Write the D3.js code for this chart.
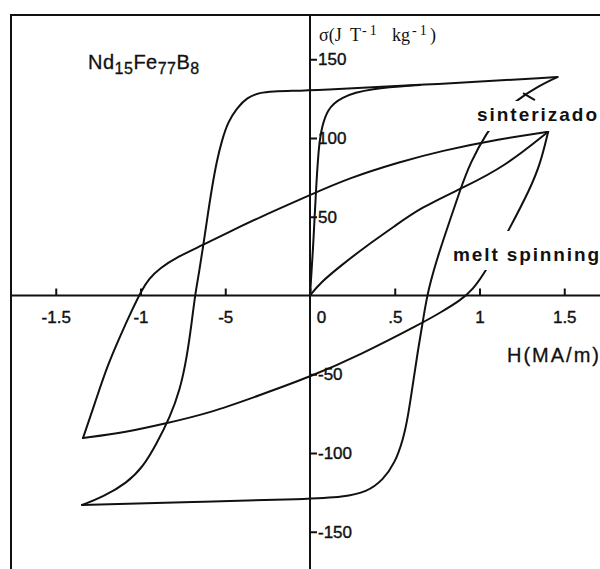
<!DOCTYPE html>
<html>
<head>
<meta charset="utf-8">
<script src="https://cdn.jsdelivr.net/npm/d3@7"></script>
<style>
  body { margin: 0; background: #fff; }
  svg { display: block; }
</style>
</head>
<body>
<svg id="chart" width="600" height="569"></svg>
<script>
// Axis ticks (H in MA/m, sigma in J T-1 kg-1)
const xTickValues = [-1.5, -1, -0.5, 0, 0.5, 1, 1.5];
const xTickLabels = ["-1.5", "-1", "-5", "0", ".5", "1", "1.5"];
const yTickValues = [150, 100, 50, -50, -100, -150];
const yTickLabels = ["150", "100", "50", "-50", "-100", "-150"];

// Sintered magnet: descending branch (from +saturation to -saturation)
const sintDown = [
  [1.46, 138.7], [0.77, 134.3], [0, 130.2], [-0.10, 130.0], [-0.22, 129.6], [-0.295, 128.9],
  [-0.372, 125.7], [-0.431, 119.0], [-0.484, 110.2], [-0.519, 98.7], [-0.549, 86.0],
  [-0.578, 68.9], [-0.608, 47.9], [-0.631, 30.8], [-0.655, 14.3], [-0.678, 0.3],
  [-0.696, -15.6], [-0.726, -39.0], [-0.767, -60.0], [-0.826, -77.1], [-0.903, -93.7],
  [-0.985, -108.9], [-1.080, -119.0], [-1.221, -127.9], [-1.345, -133.0]
];
// Sintered magnet: ascending branch
const sintUp = [
  [-1.345, -133.0], [-0.7, -131.2], [0, -129.2], [0.195, -127.9], [0.336, -124.8], [0.431, -117.1],
  [0.501, -106.3], [0.549, -91.7], [0.578, -77.1], [0.608, -55.6], [0.637, -34.6],
  [0.667, -15.6], [0.696, 3.5], [0.760, 27], [0.826, 47.9], [0.886, 67], [0.944, 84.1],
  [1.044, 103.8], [1.13, 115.5], [1.221, 124.1], [1.34, 132.5], [1.46, 138.7]
];
// Sintered magnet: initial magnetization curve
const sintVirgin = [
  [0, 0], [0.018, 28.9], [0.035, 67], [0.053, 96.8], [0.071, 107], [0.100, 117.8],
  [0.177, 126], [0.354, 131.4], [0.649, 133.7]
];
// Melt-spun ribbon: descending branch
const meltDown = [
  [1.405, 104], [1.121, 99.4], [0.767, 91.7], [0.531, 84.8], [0.230, 74.6],
  [0, 63.8], [-0.295, 49.8], [-0.490, 39.7], [-0.631, 32.1], [-0.785, 24.4],
  [-0.885, 17.4], [-0.950, 10.7], [-0.995, 3.0], [-1.050, -9.2], [-1.121, -26.0],
  [-1.198, -45.4], [-1.257, -64.4], [-1.339, -90.5]
];
// Melt-spun ribbon: ascending branch
const meltUp = [
  [-1.339, -90.5], [-1.080, -86.7], [-0.867, -81.6], [-0.590, -74.6], [-0.295, -63.2],
  [0, -51.7], [0.295, -37.8], [0.661, -17.5], [0.767, -11.0], [0.885, -3.3], [0.960, 3.5],
  [1.042, 16.2], [1.180, 42.9], [1.30, 68], [1.36, 84], [1.405, 104]
];
// Melt-spun ribbon: initial magnetization curve
const meltVirgin = [
  [0, 0], [0.06, 8.0], [0.177, 18.5], [0.324, 30.8], [0.501, 44.1],
  [0.649, 55.6], [0.914, 69], [1.150, 82], [1.405, 104]
];
// Short pointer stroke next to the "sinterizado" label
const sintPointer = [[1.257, 128.5], [1.327, 124.1]];

const svg = d3.select("#chart");
const W = 600, H = 569;
const FRAME_L = 11, FRAME_T = 15;

svg.append("rect").attr("width", W).attr("height", H).attr("fill", "#fff");

const x = d3.scaleLinear().domain([-1.5, 1.5]).range([55.75, 564.25]);
const y = d3.scaleLinear().domain([-150, 150]).range([531.75, 59.25]);

const ink = "#111";

// Frame (top and left edges)
svg.append("path")
  .attr("d", `M${W},${FRAME_T}H${FRAME_L}V${H}`)
  .attr("fill", "none").attr("stroke", ink).attr("stroke-width", 2);

// Axis lines through the origin
svg.append("line")
  .attr("x1", FRAME_L).attr("x2", W).attr("y1", y(0)).attr("y2", y(0))
  .attr("stroke", ink).attr("stroke-width", 2);
svg.append("line")
  .attr("x1", x(0)).attr("x2", x(0)).attr("y1", FRAME_T).attr("y2", H)
  .attr("stroke", ink).attr("stroke-width", 2);

const tickFont = "'Liberation Sans', Arial, sans-serif";

// H axis: ticks pointing up, labels below
const xAxis = d3.axisBottom(x)
  .tickValues(xTickValues)
  .tickFormat((d, i) => xTickLabels[i])
  .tickSizeInner(-7).tickSizeOuter(0).tickPadding(15);
const gx = svg.append("g").attr("transform", `translate(0,${y(0)})`).call(xAxis);
gx.select(".domain").remove();
gx.selectAll(".tick line").attr("stroke", ink).attr("stroke-width", 2);
gx.selectAll(".tick text")
  .attr("fill", ink).attr("stroke", ink).attr("stroke-width", 0.4)
  .style("font-family", tickFont).style("font-size", "17px")
  .attr("dx", d => d === 0 ? 11 : 0);

// Sigma axis: ticks pointing right, labels to the right
const yAxis = d3.axisRight(y)
  .tickValues(yTickValues)
  .tickFormat((d, i) => yTickLabels[i])
  .tickSizeInner(7).tickSizeOuter(0).tickPadding(1);
const gy = svg.append("g").attr("transform", `translate(${x(0)},0)`).call(yAxis);
gy.select(".domain").remove();
gy.selectAll(".tick line").attr("stroke", ink).attr("stroke-width", 2);
gy.selectAll(".tick text")
  .attr("fill", ink).attr("stroke", ink).attr("stroke-width", 0.4)
  .style("font-family", tickFont).style("font-size", "17px");

// Loop branches
const line = d3.line()
  .x(d => x(d[0])).y(d => y(d[1]))
  .curve(d3.curveBasis);

const branches = [sintDown, sintUp, sintVirgin, meltDown, meltUp, meltVirgin];
svg.append("g").selectAll("path").data(branches).join("path")
  .attr("d", line)
  .attr("fill", "none").attr("stroke", ink).attr("stroke-width", 2)
  .attr("stroke-linejoin", "round").attr("stroke-linecap", "round");

svg.append("path")
  .attr("d", d3.line().x(d => x(d[0])).y(d => y(d[1]))(sintPointer))
  .attr("fill", "none").attr("stroke", ink).attr("stroke-width", 2);

// Curve labels sit on white patches that interrupt the lines beneath
svg.append("rect").attr("x", 470).attr("y", 101).attr("width", 130).attr("height", 30).attr("fill", "#fff");
svg.append("rect").attr("x", 450).attr("y", 231).attr("width", 150).attr("height", 39).attr("fill", "#fff");

svg.append("text")
  .attr("x", 477).attr("y", 121)
  .attr("textLength", 120).attr("lengthAdjust", "spacing")
  .style("font-family", tickFont).style("font-weight", "bold").style("font-size", "19px")
  .attr("fill", ink).text("sinterizado");

svg.append("text")
  .attr("x", 453).attr("y", 261)
  .attr("textLength", 146).attr("lengthAdjust", "spacing")
  .style("font-family", tickFont).style("font-weight", "bold").style("font-size", "19px")
  .attr("fill", ink).text("melt spinning");

// Axis titles
svg.append("text")
  .attr("x", 507).attr("y", 362)
  .attr("textLength", 92).attr("lengthAdjust", "spacing")
  .attr("stroke", ink).attr("stroke-width", 0.3)
  .style("font-family", tickFont).style("font-size", "20px")
  .attr("fill", ink).text("H(MA/m)");

const sig = svg.append("text")
  .attr("y", 41)
  .style("font-family", "'Liberation Serif', 'Times New Roman', serif").style("font-size", "18px")
  .attr("fill", ink);
sig.append("tspan").attr("x", 319).text("σ(J");
sig.append("tspan").attr("x", 350).text("T");
sig.append("tspan").attr("x", 362).attr("dy", -6).style("font-size", "14px").style("letter-spacing", "3px").text("-1");
sig.append("tspan").attr("x", 392).attr("dy", 6).text("kg");
sig.append("tspan").attr("x", 412).attr("dy", -6).style("font-size", "14px").style("letter-spacing", "3px").text("-1");
sig.append("tspan").attr("x", 430).attr("dy", 6).text(")");

// Alloy composition
const comp = svg.append("text")
  .attr("x", 88).attr("y", 69)
  .attr("stroke", ink).attr("stroke-width", 0.3)
  .style("font-family", tickFont).style("font-size", "20px").style("letter-spacing", "0.5px")
  .attr("fill", ink);
[["Nd", false], ["15", true], ["Fe", false], ["77", true], ["B", false], ["8", true]]
  .forEach(([t, sub], i, arr) => {
    const prevSub = i > 0 && arr[i - 1][1];
    const dy = sub ? 5 : (prevSub ? -5 : 0);
    comp.append("tspan").attr("dy", dy).style("font-size", sub ? "16px" : "20px").text(t);
  });
</script>
</body>
</html>
